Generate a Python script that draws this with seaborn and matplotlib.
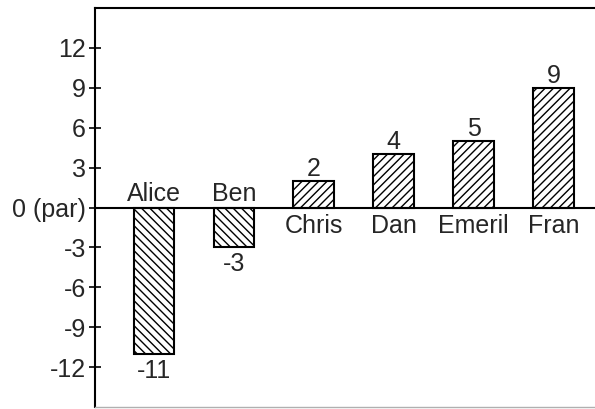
import matplotlib
matplotlib.use('Agg')
import matplotlib.pyplot as plt
import seaborn as sns

# dados do gráfico
names = ['Alice', 'Ben', 'Chris', 'Dan', 'Emeril', 'Fran']
scores = [-11, -3, 2, 4, 5, 9]
ytick_vals = [-12, -9, -6, -3, 0, 3, 6, 9, 12]
ytick_labels = ['-12', '-9', '-6', '-3', '0 (par)', '3', '6', '9', '12']

sns.set_style('white')
plt.rcParams['font.family'] = ['Liberation Sans', 'DejaVu Sans']
plt.rcParams['hatch.linewidth'] = 1.0
plt.rcParams['hatch.color'] = 'black'

fig = plt.figure(figsize=(5.95, 4.09), dpi=100)
ax = fig.add_axes([95 / 595, 1 - 407 / 409, 1 - 95 / 595, 399 / 409])

sns.barplot(x=names, y=scores, color='white', edgecolor='black',
            linewidth=1.5, width=0.51, saturation=1, ax=ax)

for patch, val in zip(ax.patches, scores):
    patch.set_facecolor('white')
    patch.set_hatch('\\\\\\\\' if val < 0 else '////')

fs = 18
for i, (name, val) in enumerate(zip(names, scores)):
    if val < 0:
        ax.annotate(name, (i, 0), xytext=(0, 5), textcoords='offset points',
                    ha='center', va='baseline', fontsize=fs)
        ax.annotate(str(val), (i, val), xytext=(0, -17.3), textcoords='offset points',
                    ha='center', va='baseline', fontsize=fs)
    else:
        ax.annotate(name, (i, 0), xytext=(0, -18.5), textcoords='offset points',
                    ha='center', va='baseline', fontsize=fs)
        ax.annotate(str(val), (i, val), xytext=(0, 3.6), textcoords='offset points',
                    ha='center', va='baseline', fontsize=fs)

ax.axhline(0, color='black', linewidth=1.5, zorder=3)
ax.set_xlim(-0.74, 5.52)
ax.set_ylim(-15, 15)
ax.set_yticks(ytick_vals)
ax.set_yticklabels(ytick_labels, fontsize=fs)
ax.set_xticks([])
ax.set_xlabel('')
ax.set_ylabel('')
ax.tick_params(axis='y', direction='inout', length=9, width=1.2, left=True,
               pad=2, color='black')

ax.spines['right'].set_visible(False)
ax.spines['top'].set_color('black')
ax.spines['top'].set_linewidth(1.5)
ax.spines['left'].set_color('black')
ax.spines['left'].set_linewidth(1.5)
ax.spines['bottom'].set_color('#b0b0b0')
ax.spines['bottom'].set_linewidth(1.0)

fig.savefig('out.png', dpi=100)
